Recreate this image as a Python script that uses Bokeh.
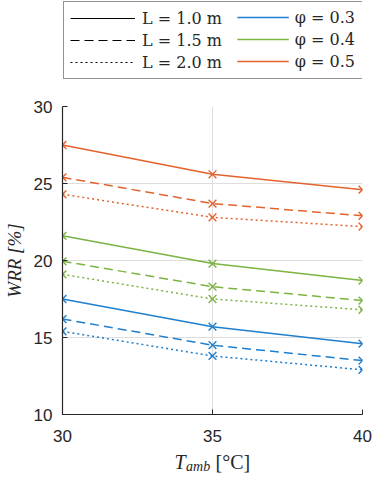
from bokeh.plotting import figure
from bokeh.layouts import column
from bokeh.models import Legend, LegendItem, Label, FixedTicker
from bokeh.embed import file_html
from bokeh.resources import INLINE

# ---- data ----
t_amb = [30, 35, 40]
x_ticks = [30, 35, 40]
y_ticks = [10, 15, 20, 25, 30]

lengths = ["1.0", "1.5", "2.0"]
phis = ["0.3", "0.4", "0.5"]

wrr_phi03_L10 = [17.5, 15.7, 14.6]
wrr_phi03_L15 = [16.2, 14.5, 13.5]
wrr_phi03_L20 = [15.4, 13.8, 12.9]
wrr_phi04_L10 = [21.6, 19.8, 18.7]
wrr_phi04_L15 = [19.95, 18.3, 17.4]
wrr_phi04_L20 = [19.1, 17.5, 16.8]
wrr_phi05_L10 = [27.5, 25.6, 24.6]
wrr_phi05_L15 = [25.4, 23.7, 22.9]
wrr_phi05_L20 = [24.3, 22.8, 22.2]

series = {
    "0.3": [wrr_phi03_L10, wrr_phi03_L15, wrr_phi03_L20],
    "0.4": [wrr_phi04_L10, wrr_phi04_L15, wrr_phi04_L20],
    "0.5": [wrr_phi05_L10, wrr_phi05_L15, wrr_phi05_L20],
}

colors = {"0.3": "#1f7fcc", "0.4": "#7cb342", "0.5": "#e4622e"}
dashes = ["solid", "9 5", "2 3"]

AX = "#262626"
NAN = float("nan")

W = 374
MB_L, MB_R, MB_T, MB_B = 54, 12, 14, 36
FRAME_W = W - MB_L - MB_R
FRAME_H = 308
LEG_H = 92
XL_H = 24

# ---------------- main plot ----------------
p = figure(
    width=W, height=MB_T + FRAME_H + MB_B,
    x_range=(30, 40), y_range=(10, 30),
    output_backend="svg", toolbar_location=None,
    min_border_left=MB_L, min_border_right=MB_R,
    min_border_bottom=MB_B, min_border_top=MB_T,
)
p.outline_line_color = None
p.background_fill_color = "white"

for phi in phis:
    for i, ys in enumerate(series[phi]):
        p.line(t_amb, ys, line_color=colors[phi], line_width=1.5, line_dash=dashes[i])
        p.scatter(t_amb, ys, marker="x", size=11, line_color=colors[phi], line_width=1.4)

for ax in (p.xaxis[0], p.yaxis[0]):
    ax.axis_line_color = AX
    ax.axis_line_width = 1.2
    ax.major_tick_in = 5
    ax.major_tick_out = 0
    ax.major_tick_line_color = AX
    ax.minor_tick_line_color = None
    ax.major_label_text_font = "Liberation Sans"
    ax.major_label_text_font_size = "17px"
    ax.major_label_text_color = AX

p.xaxis.ticker = FixedTicker(ticks=x_ticks)
p.yaxis.ticker = FixedTicker(ticks=y_ticks)
p.xaxis.major_label_standoff = 15
p.yaxis.major_label_standoff = 10

p.yaxis.axis_label = "WRR [%]"
p.yaxis.axis_label_text_font = "Liberation Serif"
p.yaxis.axis_label_text_font_style = "italic"
p.yaxis.axis_label_text_font_size = "19px"
p.yaxis.axis_label_text_color = AX
p.yaxis.axis_label_standoff = 6

for g in (p.xgrid[0], p.ygrid[0]):
    g.grid_line_color = "#dedede"
    g.grid_line_width = 1
p.xgrid.ticker = FixedTicker(ticks=x_ticks)
p.ygrid.ticker = FixedTicker(ticks=y_ticks)

# ---------------- legend strip (frame aligned with main frame) ----------------
pl = figure(width=W, height=LEG_H, x_range=(30, 40), y_range=(0, 1),
            x_axis_type=None, y_axis_type=None,
            output_backend="svg", toolbar_location=None,
            min_border_left=MB_L, min_border_right=MB_R,
            min_border_top=0, min_border_bottom=0)
pl.outline_line_color = None

items_L = []
for i, L in enumerate(lengths):
    r = pl.line(t_amb, [NAN] * len(t_amb), line_color="black", line_width=1.2, line_dash=dashes[i])
    items_L.append(LegendItem(label=f"L = {L} m", renderers=[r]))
items_phi = []
for phi in phis:
    r = pl.line(t_amb, [NAN] * len(t_amb), line_color=colors[phi], line_width=1.5)
    items_phi.append(LegendItem(label=f"φ = {phi}", renderers=[r]))

leg_common = dict(label_text_font="DejaVu Serif", label_text_font_size="16px",
                  label_text_color=AX, glyph_height=20,
                  label_height=20, spacing=2, padding=6, margin=1,
                  border_line_width=1.2)
legend_L = Legend(items=items_L, location="top_left",
                  glyph_width=65, label_standoff=7,
                  label_width=FRAME_W - 2 - 6 - 65 - 7 - 6,
                  border_line_color=AX,
                  background_fill_color="white", background_fill_alpha=1, **leg_common)
legend_phi = Legend(items=items_phi, location="top_right",
                    glyph_width=52, label_standoff=6,
                    border_line_color=AX, border_line_alpha=0,
                    background_fill_alpha=0, **leg_common)
pl.add_layout(legend_L)
pl.add_layout(legend_phi)

# ---------------- x-axis label strip: T_amb [°C] ----------------
px = figure(width=W, height=XL_H, x_range=(30, 40), y_range=(0, XL_H),
            x_axis_type=None, y_axis_type=None,
            output_backend="svg", toolbar_location=None,
            min_border_left=MB_L, min_border_right=MB_R,
            min_border_top=0, min_border_bottom=0)
px.outline_line_color = None
lab_common = dict(text_color=AX, text_font="Liberation Serif", text_baseline="middle")
px.add_layout(Label(x=33.73, y=13, text="T", text_font_size="20px",
                    text_font_style="italic", **lab_common))
px.add_layout(Label(x=34.12, y=8, text="amb", text_font_size="14px",
                    text_font_style="italic", **lab_common))
px.add_layout(Label(x=35.10, y=13, text="[°C]", text_font_size="20px", **lab_common))

layout = column(pl, p, px, spacing=0)

html = file_html(layout, INLINE)
open("out.html", "w").write(html)
